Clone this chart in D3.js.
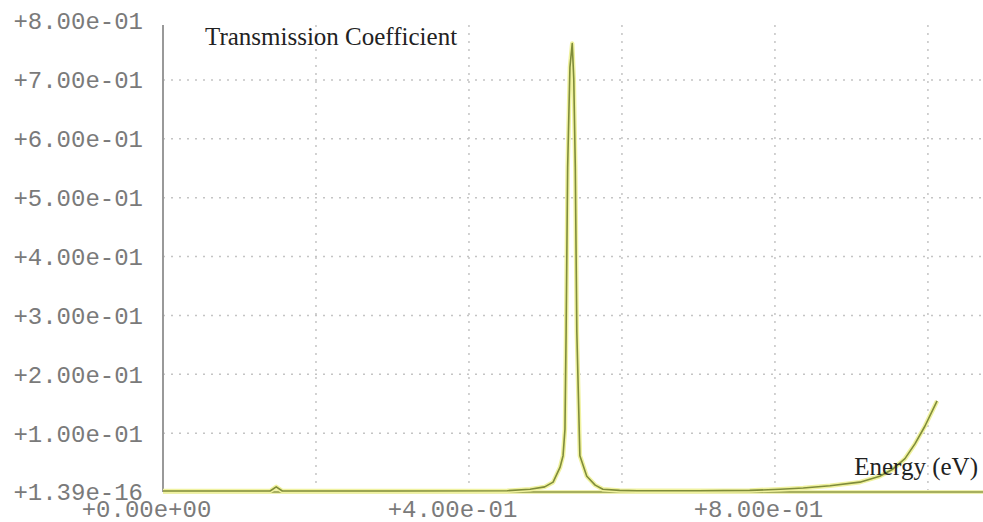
<!DOCTYPE html>
<html><head><meta charset="utf-8">
<script src="https://cdn.jsdelivr.net/npm/d3@7"></script>
<style>body{margin:0;background:#fff}svg{display:block}</style>
</head><body>
<svg id="c" width="983" height="522"></svg>
<script>
// Energy (eV) values
const energy = [0, 0.10, 0.140, 0.148, 0.156, 0.30, 0.45, 0.480, 0.499, 0.510, 0.519, 0.523, 0.5255, 0.527, 0.529, 0.532, 0.535, 0.537, 0.539, 0.541, 0.545, 0.554, 0.565, 0.575, 0.597, 0.62, 0.70, 0.767, 0.807, 0.837, 0.872, 0.911, 0.937, 0.954, 0.970, 0.983, 0.996, 1.012];
// Transmission coefficient values
const transmission = [0, 0, 0, 0.007, 0, 0, 0.0005, 0.003, 0.007, 0.015, 0.04, 0.06, 0.105, 0.27, 0.55, 0.72, 0.76, 0.70, 0.55, 0.27, 0.06, 0.025, 0.01, 0.003, 0.001, 0.0005, 0.0003, 0.001, 0.003, 0.005, 0.009, 0.015, 0.025, 0.037, 0.055, 0.08, 0.11, 0.153];
const yTicks = [0, 0.1, 0.2, 0.3, 0.4, 0.5, 0.6, 0.7, 0.8];
const yTickLabels = ["+1.39e-16", "+1.00e-01", "+2.00e-01", "+3.00e-01", "+4.00e-01", "+5.00e-01", "+6.00e-01", "+7.00e-01", "+8.00e-01"];
const xGrid = [0.2, 0.4, 0.6, 0.8, 1.0];
const xTicks = [0, 0.4, 0.8];
const xTickLabels = ["+0.00e+00", "+4.00e-01", "+8.00e-01"];
const title = "Transmission Coefficient";
const xTitle = "Energy (eV)";

const svg = d3.select("#c");
const mLeft = 163, mRight = 983, mTop = 21, mBottom = 492;
const x = d3.scaleLinear().domain([0, 1.072]).range([mLeft, mRight]);
const y = d3.scaleLinear().domain([0, 0.8]).range([mBottom, mTop]);

// grid
svg.append("g").selectAll("line").data(yTicks.filter(d => d > 0 && d < 0.8)).join("line")
  .attr("x1", mLeft).attr("x2", mRight).attr("y1", d => y(d)).attr("y2", d => y(d))
  .attr("stroke", "#c4c4c4").attr("stroke-width", 1.5).attr("stroke-dasharray", "2,6");
svg.append("g").selectAll("line").data(xGrid).join("line")
  .attr("x1", d => x(d)).attr("x2", d => x(d)).attr("y1", 25).attr("y2", mBottom)
  .attr("stroke", "#c4c4c4").attr("stroke-width", 1.5).attr("stroke-dasharray", "2,6");

// y axis line
svg.append("line").attr("x1", mLeft).attr("x2", mLeft).attr("y1", 25).attr("y2", mBottom)
  .attr("stroke", "#999").attr("stroke-width", 2);

// y tick labels
const yAxis = d3.axisLeft(y).tickValues(yTicks).tickSize(0).tickPadding(20)
  .tickFormat((d, i) => yTickLabels[i]);
const gy = svg.append("g").attr("transform", `translate(${mLeft},0)`).call(yAxis);
gy.select(".domain").remove();
gy.selectAll("text").attr("font-family", "Liberation Mono, monospace").attr("font-size", 24)
  .attr("fill", "#7a7a7a").attr("dy", "0.33em");

// x tick labels
const xAxis = d3.axisBottom(x).tickValues(xTicks).tickSize(0).tickPadding(0)
  .tickFormat((d, i) => xTickLabels[i]);
const gx = svg.append("g").attr("transform", `translate(0,${mBottom})`).call(xAxis);
gx.select(".domain").remove();
gx.selectAll("text").attr("font-family", "Liberation Mono, monospace").attr("font-size", 24)
  .attr("fill", "#7a7a7a").attr("dx", -17).attr("dy", 0).attr("y", 25);

// baseline
svg.append("line").attr("x1", mLeft).attr("x2", mRight).attr("y1", mBottom).attr("y2", mBottom)
  .attr("stroke", "#eef0b0").attr("stroke-width", 4);
svg.append("line").attr("x1", mLeft).attr("x2", mRight).attr("y1", mBottom).attr("y2", mBottom)
  .attr("stroke", "#8f9a45").attr("stroke-width", 1.6);

// curve
const data = energy.map((e, i) => [e, transmission[i]]);
const line = d3.line().x(d => x(d[0])).y(d => y(d[1]) - 1);
svg.append("path").datum(data).attr("d", line).attr("fill", "none")
  .attr("stroke", "#f0f2a0").attr("stroke-width", 4.5).attr("stroke-linejoin", "round");
svg.append("path").datum(data).attr("d", line).attr("fill", "none")
  .attr("stroke", "#7f8c3a").attr("stroke-width", 1.6).attr("stroke-linejoin", "round");

// titles
svg.append("text").attr("x", 205).attr("y", 45).text(title)
  .attr("font-family", "Liberation Serif, serif").attr("font-size", 25).attr("fill", "#222");
svg.append("text").attr("x", 978).attr("y", 475).attr("text-anchor", "end").text(xTitle)
  .attr("font-family", "Liberation Serif, serif").attr("font-size", 25).attr("fill", "#222");
</script>
</body></html>
